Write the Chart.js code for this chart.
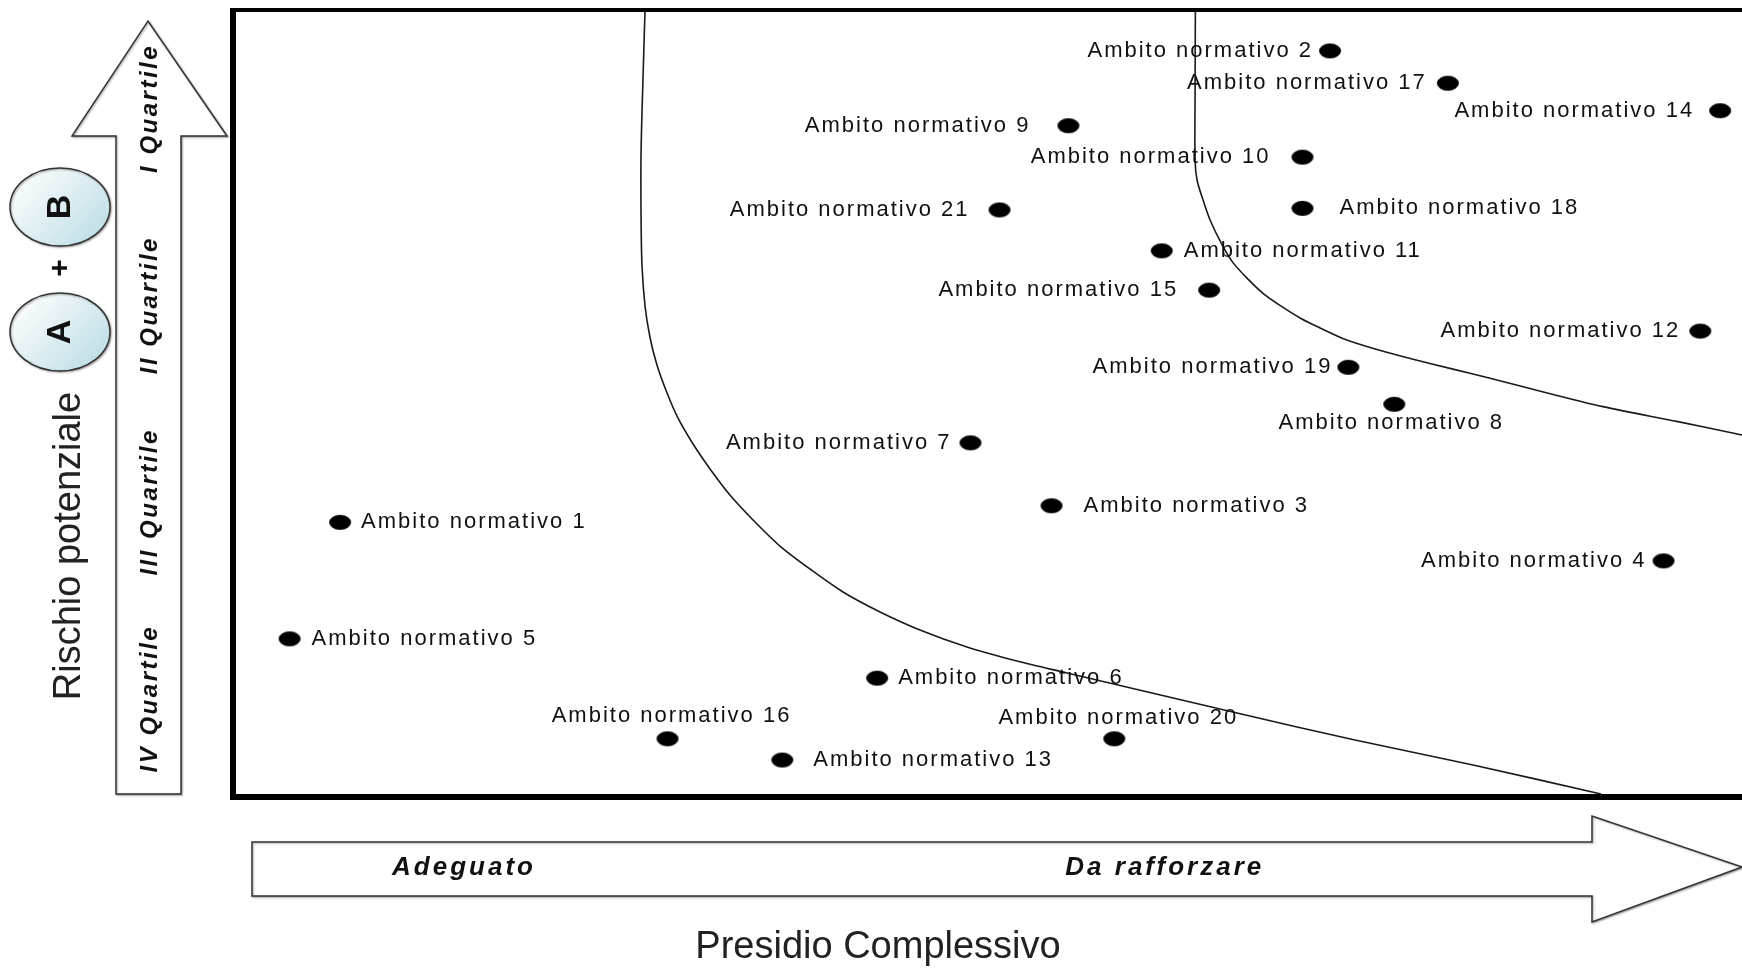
<!DOCTYPE html>
<html>
<head>
<meta charset="utf-8">
<script src="https://cdn.jsdelivr.net/npm/chart.js@4.4.1/dist/chart.umd.min.js"></script>
<style>
html,body{margin:0;padding:0;overflow:hidden;background:#fff;width:1742px;height:968px}
#wrap{position:absolute;left:0;top:0;width:1800px;height:968px}
</style>
</head>
<body>
<div id="wrap"><canvas id="c"></canvas></div>
<script>
// ---- data ----
const ambitoNames = [
  'Ambito normativo 1','Ambito normativo 2','Ambito normativo 3','Ambito normativo 4',
  'Ambito normativo 5','Ambito normativo 6','Ambito normativo 7','Ambito normativo 8',
  'Ambito normativo 9','Ambito normativo 10','Ambito normativo 11','Ambito normativo 12',
  'Ambito normativo 13','Ambito normativo 14','Ambito normativo 15','Ambito normativo 16',
  'Ambito normativo 17','Ambito normativo 18','Ambito normativo 19','Ambito normativo 20',
  'Ambito normativo 21'
];
// Presidio complessivo (x)
const presidioValues = [7.0,71.7,53.5,93.5,3.7,42.1,48.2,75.9,54.6,69.9,60.7,95.9,35.9,97.2,63.8,28.4,79.4,69.9,72.9,57.6,50.1];
// Rischio potenziale (y)
const rischioValues  = [34.9,94.8,37.0,30.0,20.1,15.1,45.0,49.9,85.3,81.3,69.4,59.2,4.7,87.2,64.4,7.4,90.7,74.8,54.6,7.4,74.6];

// boundary curves
const curve1X = [26.93,26.80,26.67,26.67,26.73,26.93,27.25,27.71,28.37,29.08,30.07,31.18,32.48,33.99,35.75,37.71,39.87,42.29,44.90,47.97,51.24,54.51,57.84,65.62,73.33,81.05,89.41];
const curve1Y = [100,91.49,81.83,74.08,67.60,62.39,58.45,54.89,51.33,48.16,44.85,41.68,38.37,35.20,31.89,28.97,26.05,23.51,21.22,19.06,17.28,15.76,14.23,10.67,7.24,4.07,0.38];
const curve2X = [62.9,62.88,62.88,63.01,63.40,63.86,64.64,65.36,66.34,67.32,68.56,69.80,71.05,72.75,74.71,77.19,79.67,82.16,84.58,89.54,94.44,98.63,100];
const curve2Y = [100,88.56,80.94,78.40,75.86,73.32,70.2,67.9,65.8,64.0,62.3,60.8,59.6,58.1,56.9,55.6,54.4,53.2,52.0,49.6,47.7,46.0,45.4];

// texts
const quartileLabels = ['I Quartile','II Quartile','III Quartile','IV Quartile'];
const xLevelLabels = ['Adeguato','Da rafforzare'];
const xLevelPos = [15.1, 60.9];
const xAxisTitle = 'Presidio Complessivo';
const yAxisTitle = 'Rischio potenziale';

// label placement (side of the dot and gap in px)
const labelSide = ['right','left','right','left','right','right','left','below','left','left','right','left','right','left','left','above','left','right','left','above','left'];
const labelGap  = [21,17,32,17,22,21,19,19,38,32,22,20,31,26,31,23,21,37,16,21,30];

// ---- dot marker (horizontal ellipse) ----
const dot = document.createElement('canvas');
dot.width = 24; dot.height = 17;
(function(){
  const g = dot.getContext('2d');
  g.fillStyle = '#000';
  g.beginPath(); g.ellipse(12, 8.5, 11, 7.5, 0, 0, Math.PI*2); g.fill();
})();

function rotText(ctx, t, x, y, font, spacing){
  ctx.save();
  ctx.translate(x, y);
  ctx.rotate(-Math.PI/2);
  ctx.font = font;
  try { ctx.letterSpacing = spacing || '0px'; } catch(e) {}
  ctx.textAlign = 'center';
  ctx.textBaseline = 'middle';
  ctx.fillText(t, 0, 0);
  ctx.restore();
}

const deco = {
  id: 'deco',
  afterDatasetsDraw(chart){
    const ctx = chart.ctx;
    const meta = chart.getDatasetMeta(0);
    ctx.save();
    ctx.font = '22px "Liberation Sans", Arial, sans-serif';
    try { ctx.letterSpacing = '2px'; } catch(e) {}
    ctx.fillStyle = '#111';
    ctx.textBaseline = 'middle';
    meta.data.forEach((pt, i) => {
      const t = ambitoNames[i], g = labelGap[i];
      switch(labelSide[i]){
        case 'left': ctx.textAlign = 'right'; ctx.fillText(t, pt.x - g, pt.y); break;
        case 'right': ctx.textAlign = 'left'; ctx.fillText(t, pt.x + g, pt.y); break;
        case 'above': ctx.textAlign = 'center'; ctx.fillText(t, pt.x + 4, pt.y - g); break;
        case 'below': ctx.textAlign = 'center'; ctx.fillText(t, pt.x - 3, pt.y + g); break;
      }
    });
    ctx.restore();
  },
  afterDraw(chart){
    const ctx = chart.ctx, a = chart.chartArea;
    const xs = chart.scales.x, ys = chart.scales.y;
    ctx.save();
    // plot frame
    ctx.strokeStyle = '#000';
    ctx.lineCap = 'butt';
    ctx.lineWidth = 4;
    ctx.beginPath(); ctx.moveTo(a.left, a.top); ctx.lineTo(a.right + 20, a.top); ctx.stroke();
    ctx.lineWidth = 6;
    ctx.beginPath(); ctx.moveTo(a.left, a.top - 2); ctx.lineTo(a.left, a.bottom + 3); ctx.stroke();
    ctx.beginPath(); ctx.moveTo(a.left - 3, a.bottom); ctx.lineTo(a.right + 20, a.bottom); ctx.stroke();

    // vertical arrow
    ctx.shadowColor = 'rgba(0,0,0,0.35)';
    ctx.shadowBlur = 2; ctx.shadowOffsetX = 1; ctx.shadowOffsetY = 1;
    ctx.fillStyle = '#fff';
    ctx.strokeStyle = '#333';
    ctx.lineWidth = 1.5;
    ctx.beginPath();
    ctx.moveTo(116, 794); ctx.lineTo(116, 136); ctx.lineTo(72, 136);
    ctx.lineTo(148, 21); ctx.lineTo(227, 136); ctx.lineTo(181, 136);
    ctx.lineTo(181, 794); ctx.closePath();
    ctx.fill(); ctx.stroke();

    // horizontal arrow
    ctx.beginPath();
    ctx.moveTo(252, 842); ctx.lineTo(1592, 842); ctx.lineTo(1592, 816);
    ctx.lineTo(1742, 867); ctx.lineTo(1592, 922); ctx.lineTo(1592, 896);
    ctx.lineTo(252, 896); ctx.closePath();
    ctx.fill(); ctx.stroke();

    // ellipses A / B
    [[60, 332, 39], [60, 207, 39]].forEach(([cx, cy, ry]) => {
      const gr = ctx.createLinearGradient(cx - 40, cy - ry, cx + 45, cy + ry);
      gr.addColorStop(0, '#ffffff');
      gr.addColorStop(1, '#b9dbe4');
      ctx.fillStyle = gr;
      ctx.beginPath(); ctx.ellipse(cx, cy, 50, ry, 0, 0, Math.PI*2);
      ctx.fill(); ctx.stroke();
    });
    ctx.shadowColor = 'transparent';
    ctx.fillStyle = '#111';
    rotText(ctx, 'A', 61, 332, 'bold 34px "Liberation Sans", Arial, sans-serif');
    rotText(ctx, 'B', 61, 207, 'bold 34px "Liberation Sans", Arial, sans-serif');
    rotText(ctx, '+', 61, 268, 'bold 30px "Liberation Sans", Arial, sans-serif');

    // y axis title
    ctx.fillStyle = '#222';
    rotText(ctx, yAxisTitle, 70, 546, '38px "Liberation Sans", Arial, sans-serif');

    // quartile labels at band centres of the y scale
    ctx.fillStyle = '#111';
    quartileLabels.forEach((q, i) => {
      const yc = ys.getPixelForValue(100 - (i + 0.5) * 25);
      rotText(ctx, q, 150, yc, 'italic bold 24px "Liberation Sans", Arial, sans-serif', '2.5px');
    });

    // x level labels
    ctx.font = 'italic bold 26px "Liberation Sans", Arial, sans-serif';
    try { ctx.letterSpacing = '3px'; } catch(e) {}
    ctx.textAlign = 'center'; ctx.textBaseline = 'middle';
    xLevelLabels.forEach((t, i) => ctx.fillText(t, xs.getPixelForValue(xLevelPos[i]), 868));

    // x title
    try { ctx.letterSpacing = '0px'; } catch(e) {}
    ctx.font = '38px "Liberation Sans", Arial, sans-serif';
    ctx.fillStyle = '#222';
    ctx.fillText(xAxisTitle, 878, 948);
    ctx.restore();
  }
};

new Chart(document.getElementById('c'), {
  type: 'scatter',
  data: {
    datasets: [
      {
        label: 'Ambiti normativi',
        data: presidioValues.map((x, i) => ({x, y: rischioValues[i]})),
        pointStyle: dot,
        pointRadius: 9,
        pointHoverRadius: 9,
        backgroundColor: '#000',
        borderColor: '#000'
      },
      {
        label: 'Soglia 1',
        data: curve1X.map((x, i) => ({x, y: curve1Y[i]})),
        showLine: true, pointRadius: 0, borderColor: '#1a1a1a', borderWidth: 1.6, tension: 0.3
      },
      {
        label: 'Soglia 2',
        data: curve2X.map((x, i) => ({x, y: curve2Y[i]})),
        showLine: true, pointRadius: 0, borderColor: '#1a1a1a', borderWidth: 1.6, tension: 0.3
      }
    ]
  },
  options: {
    responsive: true,
    maintainAspectRatio: false,
    animation: false,
    layout: { padding: { left: 233, top: 10, right: 37, bottom: 171 } },
    scales: {
      x: { type: 'linear', min: 0, max: 100, display: false },
      y: { type: 'linear', min: 0, max: 100, display: false }
    },
    plugins: { legend: { display: false }, tooltip: { enabled: false } }
  },
  plugins: [deco]
});
</script>
</body>
</html>
